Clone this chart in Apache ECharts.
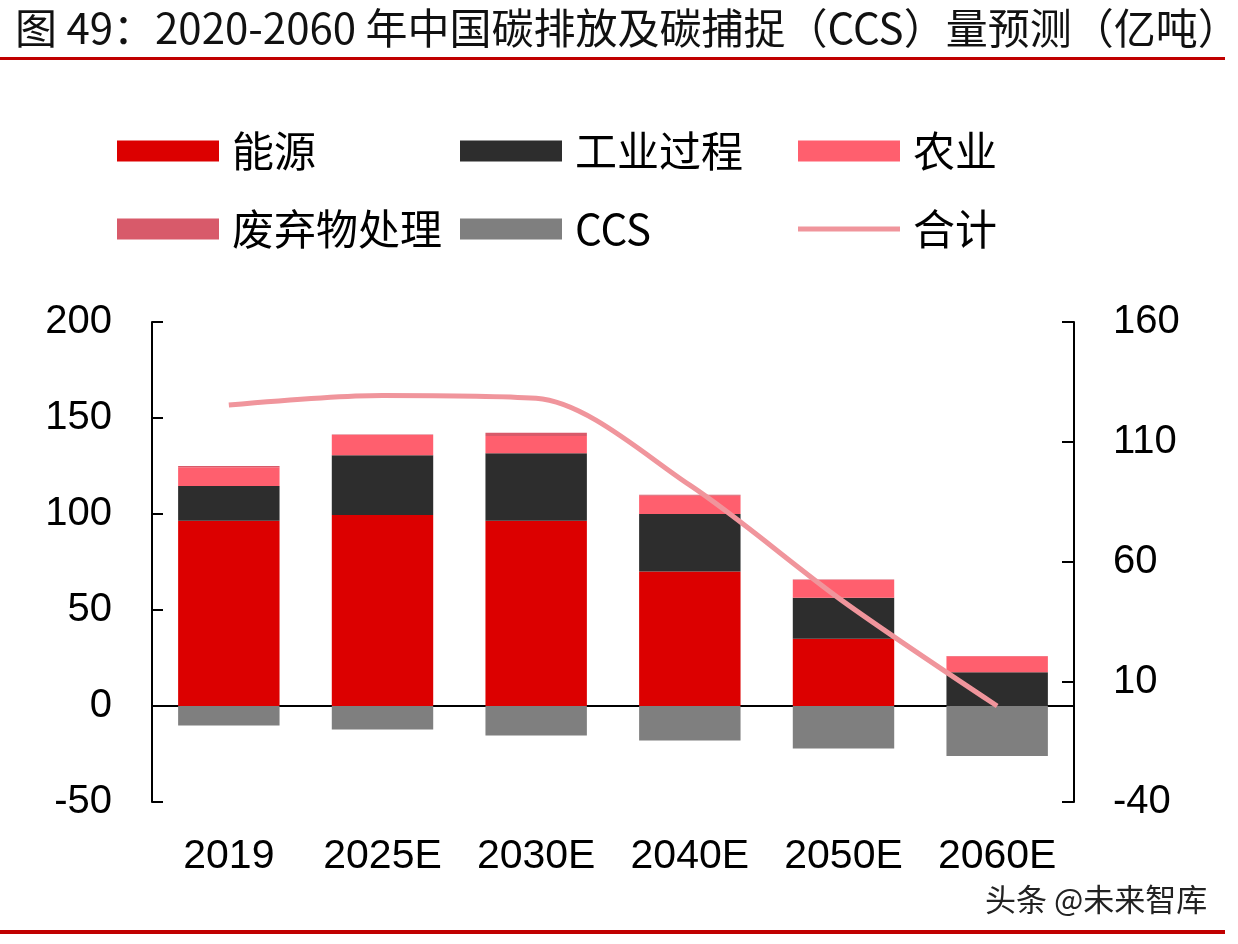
<!DOCTYPE html>
<html>
<head>
<meta charset="utf-8">
<script src="https://cdn.jsdelivr.net/npm/echarts@6/dist/echarts.min.js"></script>
<style>
  html, body { margin: 0; padding: 0; background: #fff; }
  #main { width: 1238px; height: 944px; }
</style>
</head>
<body>
<div id="main"></div>
<script>
// 年份
var categories = ['2019', '2025E', '2030E', '2040E', '2050E', '2060E'];
// 各部门排放（亿吨）
var energy = [96.5, 99.5, 96.5, 70, 35, 0];
var industry = [18.1, 31.1, 35.1, 30, 21.4, 17.6];
var agriculture = [9.7, 10.5, 9, 9.5, 9.2, 8.3];
var waste = [0.7, 0.3, 1.7, 0.5, 0.3, 0.2];
var ccs = [-10.2, -12.2, -15.3, -18, -22.2, -26];
// 合计（右轴）
var total = [125.4, 129.4, 128.2, 92, 43.5, 0];

var leftTicks = { min: -50, max: 200, interval: 50 };
var rightTicks = { min: -40, max: 160, interval: 50 };

var numFont = '"Liberation Sans", Arial, sans-serif';
var cjkFont = '"Noto Sans CJK SC", sans-serif';

var chart = echarts.init(document.getElementById('main'));

function legendAt(name, left, top, h) {
  return {
    data: [name],
    left: left,
    top: top,
    padding: 0,
    icon: 'rect',
    itemWidth: 102,
    itemHeight: h || 21,
    selectedMode: false,
    textStyle: {
      fontFamily: cjkFont,
      fontSize: 42,
      color: '#000',
      padding: [0, 0, 0, 8]
    }
  };
}

var option = {
  backgroundColor: '#ffffff',
  animation: false,
  title: {
    text: '图 49：2020-2060 年中国碳排放及碳捕捉（CCS）量预测（亿吨）',
    left: 10,
    top: 2,
    textStyle: { fontFamily: cjkFont, fontSize: 42, fontWeight: 'normal', color: '#111' }
  },
  legend: [
    legendAt('能源', 117, 130),
    legendAt('工业过程', 460, 130),
    legendAt('农业', 798, 130),
    legendAt('废弃物处理', 117, 208),
    legendAt('CCS', 460, 208),
    legendAt('合计', 798, 208, 5)
  ],
  grid: { left: 152, right: 164, top: 322, bottom: 142 },
  xAxis: [
    {
      type: 'category',
      data: categories,
      axisLine: { onZero: true, lineStyle: { color: '#000', width: 2 } },
      axisTick: { inside: true, length: 12, lineStyle: { color: '#000', width: 2 } },
      axisLabel: { show: false }
    },
    {
      type: 'category',
      data: categories,
      position: 'bottom',
      axisLine: { show: false, onZero: false },
      axisTick: { show: false },
      axisLabel: { interval: 0, fontFamily: numFont, fontSize: 41, color: '#000', margin: 34 }
    }
  ],
  yAxis: [
    {
      type: 'value',
      min: leftTicks.min,
      max: leftTicks.max,
      interval: leftTicks.interval,
      axisLine: { show: true, lineStyle: { color: '#000', width: 2 } },
      axisTick: { show: true, inside: true, length: 11, lineStyle: { color: '#000', width: 2 } },
      splitLine: { show: false },
      axisLabel: { fontFamily: numFont, fontSize: 40, color: '#000', margin: 40 }
    },
    {
      type: 'value',
      position: 'right',
      min: rightTicks.min,
      max: rightTicks.max,
      interval: rightTicks.interval,
      axisLine: { show: true, lineStyle: { color: '#000', width: 2 } },
      axisTick: { show: true, inside: true, length: 12, lineStyle: { color: '#000', width: 2 } },
      splitLine: { show: false },
      axisLabel: { fontFamily: numFont, fontSize: 40, color: '#000', margin: 39 }
    }
  ],
  series: [
    { name: '能源', type: 'bar', stack: 'a', data: energy, barCategoryGap: '34%', itemStyle: { color: '#DC0000' } },
    { name: '工业过程', type: 'bar', stack: 'a', data: industry, itemStyle: { color: '#2D2D2D' } },
    { name: '农业', type: 'bar', stack: 'a', data: agriculture, itemStyle: { color: '#FF5F6E' } },
    { name: '废弃物处理', type: 'bar', stack: 'a', data: waste, itemStyle: { color: '#D85A6A' } },
    { name: 'CCS', type: 'bar', stack: 'a', data: ccs, itemStyle: { color: '#7F7F7F' } },
    {
      name: '合计', type: 'line', yAxisIndex: 1, data: total,
      smooth: 0.3, symbol: 'none', z: 5,
      itemStyle: { color: '#F0959C' },
      lineStyle: { color: '#F0959C', width: 5 }
    }
  ],
  graphic: [
    { type: 'rect', left: 0, top: 57, shape: { width: 1225, height: 3 }, style: { fill: '#C00000' } },
    { type: 'rect', left: 0, top: 930, shape: { width: 1225, height: 4 }, style: { fill: '#C00000' } },
    {
      type: 'text', left: 985, top: 884,
      style: { text: '头条 @未来智库', fontFamily: cjkFont, fontSize: 31, fill: '#222' }
    }
  ]
};

chart.setOption(option);
</script>
</body>
</html>
